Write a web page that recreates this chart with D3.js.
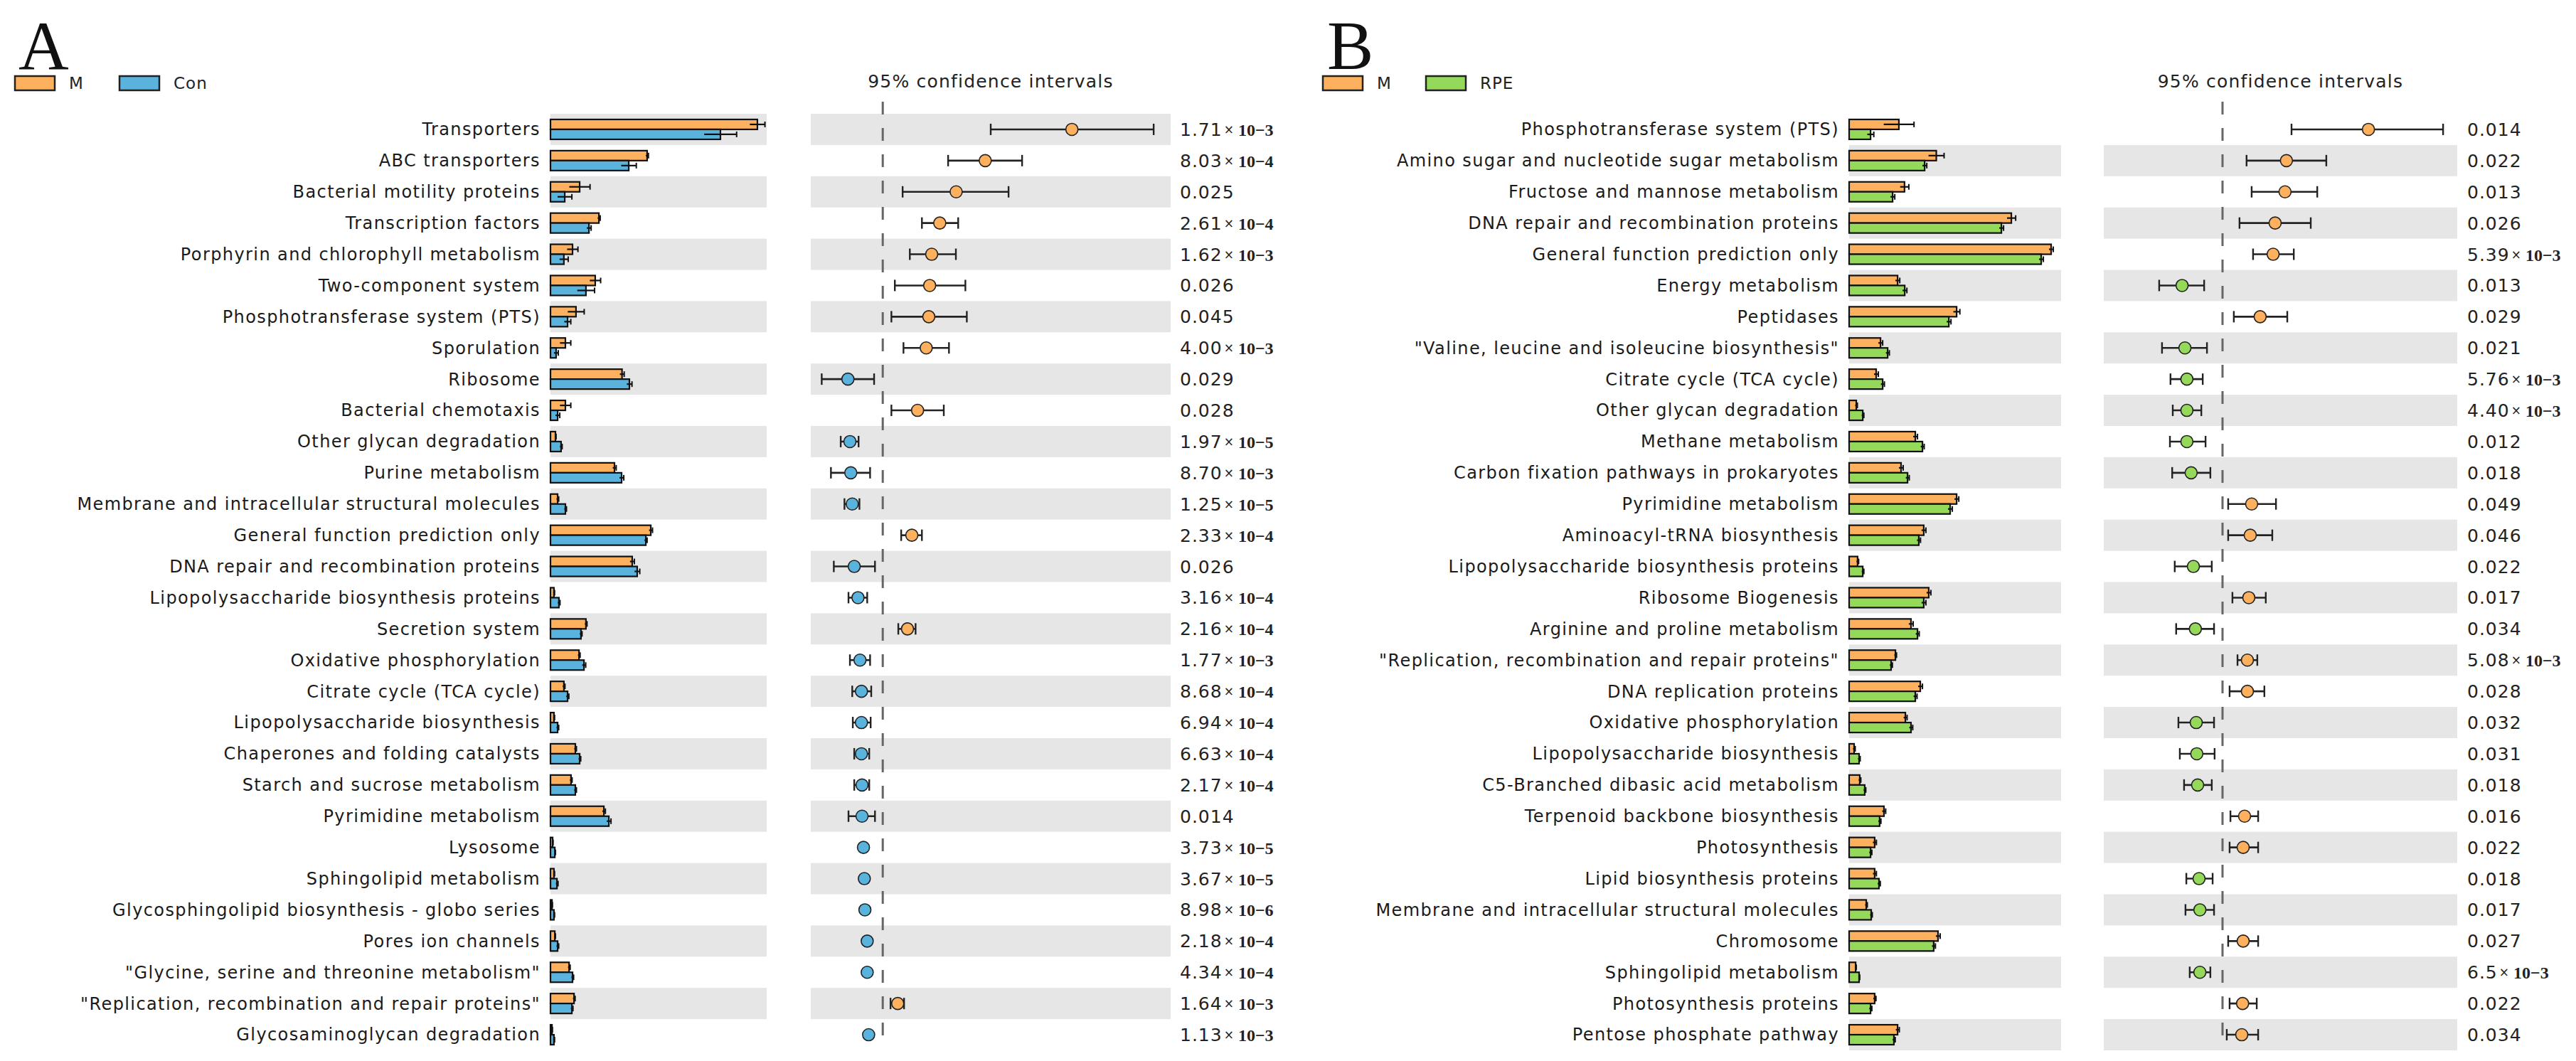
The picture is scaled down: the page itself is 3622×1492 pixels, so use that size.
<!DOCTYPE html>
<html><head><meta charset="utf-8">
<script src="https://cdn.jsdelivr.net/npm/d3@7/dist/d3.min.js"></script>
<style>body{margin:0;background:#fff}svg{display:block}</style>
</head><body>
<svg id="chart" width="3622" height="1492"></svg>
<script>
// ---------- Panel A data ----------
const catsA = ["Transporters","ABC transporters","Bacterial motility proteins","Transcription factors","Porphyrin and chlorophyll metabolism","Two-component system","Phosphotransferase system (PTS)","Sporulation","Ribosome","Bacterial chemotaxis","Other glycan degradation","Purine metabolism","Membrane and intracellular structural molecules","General function prediction only","DNA repair and recombination proteins","Lipopolysaccharide biosynthesis proteins","Secretion system","Oxidative phosphorylation","Citrate cycle (TCA cycle)","Lipopolysaccharide biosynthesis","Chaperones and folding catalysts","Starch and sucrose metabolism","Pyrimidine metabolism","Lysosome","Sphingolipid metabolism","Glycosphingolipid biosynthesis - globo series","Pores ion channels","\"Glycine, serine and threonine metabolism\"","\"Replication, recombination and repair proteins\"","Glycosaminoglycan degradation"];
const meanA_M   = [9.57,4.47,1.35,2.24,1.02,2.07,1.18,0.69,3.31,0.69,0.23,2.96,0.33,4.64,3.78,0.16,1.64,1.32,0.62,0.16,1.15,0.95,2.47,0.10,0.16,0.07,0.20,0.86,1.09,0.07];
const sdA_M     = [0.35,0.06,0.48,0.06,0.25,0.25,0.38,0.25,0.10,0.25,0.03,0.08,0.05,0.08,0.10,0.03,0.05,0.05,0.05,0.03,0.05,0.05,0.07,0.02,0.03,0.02,0.03,0.05,0.05,0.02];
const meanA_Con = [7.86,3.62,0.66,1.78,0.62,1.64,0.79,0.26,3.65,0.33,0.49,3.29,0.69,4.41,4.01,0.39,1.41,1.55,0.79,0.33,1.35,1.15,2.70,0.20,0.30,0.16,0.33,1.02,0.99,0.16];
const sdA_Con   = [0.75,0.35,0.33,0.10,0.20,0.40,0.15,0.10,0.12,0.10,0.05,0.10,0.05,0.06,0.12,0.05,0.05,0.08,0.06,0.05,0.05,0.05,0.10,0.03,0.05,0.03,0.05,0.05,0.05,0.03];
const diffA   = [0.657,0.356,0.255,0.198,0.170,0.163,0.160,0.151,-0.121,0.121,-0.114,-0.111,-0.106,0.101,-0.099,-0.086,0.086,-0.079,-0.074,-0.074,-0.074,-0.072,-0.072,-0.067,-0.064,-0.062,-0.054,-0.054,0.052,-0.049];
const ciLowA  = [0.375,0.227,0.069,0.136,0.094,0.042,0.030,0.072,-0.212,0.030,-0.146,-0.180,-0.133,0.064,-0.170,-0.119,0.054,-0.114,-0.106,-0.104,-0.099,-0.099,-0.119,-0.072,-0.069,-0.067,-0.062,-0.059,0.027,-0.054];
const ciHighA = [0.941,0.484,0.437,0.262,0.254,0.287,0.292,0.230,-0.030,0.212,-0.084,-0.044,-0.081,0.136,-0.027,-0.054,0.114,-0.044,-0.040,-0.042,-0.047,-0.047,-0.027,-0.061,-0.059,-0.057,-0.047,-0.049,0.074,-0.044];
const pA = ["1.71e-3","8.03e-4","0.025","2.61e-4","1.62e-3","0.026","0.045","4.00e-3","0.029","0.028","1.97e-5","8.70e-3","1.25e-5","2.33e-4","0.026","3.16e-4","2.16e-4","1.77e-3","8.68e-4","6.94e-4","6.63e-4","2.17e-4","0.014","3.73e-5","3.67e-5","8.98e-6","2.18e-4","4.34e-4","1.64e-3","1.13e-3"];
const groupsA = ["M","Con"];

// ---------- Panel B data ----------
const catsB = ["Phosphotransferase system (PTS)","Amino sugar and nucleotide sugar metabolism","Fructose and mannose metabolism","DNA repair and recombination proteins","General function prediction only","Energy metabolism","Peptidases","\"Valine, leucine and isoleucine biosynthesis\"","Citrate cycle (TCA cycle)","Other glycan degradation","Methane metabolism","Carbon fixation pathways in prokaryotes","Pyrimidine metabolism","Aminoacyl-tRNA biosynthesis","Lipopolysaccharide biosynthesis proteins","Ribosome Biogenesis","Arginine and proline metabolism","\"Replication, recombination and repair proteins\"","DNA replication proteins","Oxidative phosphorylation","Lipopolysaccharide biosynthesis","C5-Branched dibasic acid metabolism","Terpenoid backbone biosynthesis","Photosynthesis","Lipid biosynthesis proteins","Membrane and intracellular structural molecules","Chromosome","Sphingolipid metabolism","Photosynthesis proteins","Pentose phosphate pathway"];
const meanB_M   = [2.30,4.03,2.56,7.50,9.34,2.24,4.97,1.45,1.25,0.33,3.06,2.40,4.97,3.45,0.39,3.68,2.86,2.14,3.29,2.60,0.23,0.49,1.61,1.18,1.18,0.79,4.11,0.30,1.18,2.24];
const sdB_M     = [0.70,0.36,0.20,0.20,0.10,0.10,0.15,0.10,0.10,0.05,0.10,0.10,0.10,0.10,0.05,0.10,0.10,0.05,0.10,0.08,0.05,0.05,0.08,0.08,0.08,0.05,0.10,0.03,0.06,0.08];
const meanB_RPE = [0.99,3.49,2.01,7.04,8.88,2.57,4.61,1.78,1.55,0.63,3.39,2.70,4.67,3.22,0.63,3.45,3.16,1.94,3.06,2.86,0.46,0.72,1.41,0.99,1.38,1.02,3.91,0.46,0.99,2.07];
const sdB_RPE   = [0.15,0.10,0.10,0.10,0.10,0.10,0.10,0.08,0.08,0.05,0.08,0.08,0.10,0.08,0.05,0.10,0.08,0.06,0.08,0.08,0.05,0.05,0.06,0.06,0.06,0.05,0.08,0.03,0.06,0.06];
const diffB   = [0.516,0.226,0.221,0.186,0.179,-0.143,0.133,-0.133,-0.126,-0.126,-0.126,-0.111,0.103,0.098,-0.103,0.093,-0.096,0.088,0.088,-0.093,-0.091,-0.088,0.078,0.073,-0.083,-0.080,0.073,-0.080,0.071,0.068];
const ciLowB  = [0.244,0.085,0.103,0.060,0.108,-0.224,0.040,-0.214,-0.184,-0.176,-0.186,-0.178,0.020,0.020,-0.169,0.035,-0.164,0.053,0.025,-0.156,-0.151,-0.136,0.028,0.025,-0.128,-0.131,0.020,-0.116,0.025,0.015];
const ciHighB = [0.780,0.367,0.335,0.312,0.252,-0.065,0.229,-0.055,-0.070,-0.075,-0.060,-0.043,0.189,0.176,-0.038,0.153,-0.030,0.123,0.148,-0.030,-0.028,-0.038,0.126,0.126,-0.035,-0.030,0.126,-0.043,0.121,0.126];
const pB = ["0.014","0.022","0.013","0.026","5.39e-3","0.013","0.029","0.021","5.76e-3","4.40e-3","0.012","0.018","0.049","0.046","0.022","0.017","0.034","5.08e-3","0.028","0.032","0.031","0.018","0.016","0.022","0.018","0.017","0.027","6.5e-3","0.022","0.034"];
const groupsB = ["M","RPE"];

const COL_M = "#FDB05E", COL_CON = "#5AB3DD", COL_RPE = "#95D95B", STRIPE = "#E6E6E6";

const svg = d3.select("#chart");

function panel(o) {
  const g = svg.append("g");
  const n = o.cats.length;
  const y = d3.scaleBand().domain(d3.range(n)).range([160, 160 + n * 43.9]).padding(0);
  const xb = d3.scaleLinear().domain(o.barDomain).range(o.barRange);
  const xc = d3.scaleLinear().domain(o.ciDomain).range(o.ciRange);
  const bw = y.bandwidth();

  // panel letter
  g.append("text").attr("x", o.letterX).attr("y", 97).text(o.letter)
    .attr("font-family", "Liberation Serif, serif").attr("font-size", 98).attr("fill", "#111");
  // legend
  const lg = g.append("g");
  o.groups.forEach((name, k) => {
    const lx = o.legendX[k];
    lg.append("rect").attr("x", lx).attr("y", 107).attr("width", 56).attr("height", 20)
      .attr("fill", o.colors[k]).attr("stroke", "#222").attr("stroke-width", 2.5);
    lg.append("text").attr("x", lx + 76).attr("y", 125).text(name)
      .attr("font-family", "DejaVu Sans, sans-serif").attr("font-size", 23)
      .attr("letter-spacing", 1).attr("fill", "#222");
  });
  // title
  g.append("text").attr("x", (o.ciRange[0] + o.ciRange[1]) / 2).attr("y", 123)
    .attr("text-anchor", "middle").text("95% confidence intervals")
    .attr("font-family", "DejaVu Sans, sans-serif").attr("font-size", 25)
    .attr("letter-spacing", 1.2).attr("fill", "#222");

  // stripes
  const stripeRows = d3.range(n).filter(i => i % 2 === o.stripeParity);
  g.selectAll(".sb").data(stripeRows).join("rect")
    .attr("x", o.barRange[0]).attr("width", o.barRange[1] - o.barRange[0])
    .attr("y", i => y(i)).attr("height", bw).attr("fill", STRIPE);
  g.selectAll(".sc").data(stripeRows).join("rect")
    .attr("x", o.ciRange[0]).attr("width", o.ciRange[1] - o.ciRange[0])
    .attr("y", i => y(i)).attr("height", bw).attr("fill", STRIPE);

  // category labels
  g.selectAll(".lab").data(o.cats).join("text")
    .attr("x", o.barRange[0] - 14).attr("y", (d, i) => y(i) + bw / 2)
    .attr("dy", "0.35em").attr("text-anchor", "end").text(d => d)
    .attr("font-family", "DejaVu Sans, sans-serif").attr("font-size", 24)
    .attr("letter-spacing", 1.4).attr("fill", "#1a1a1a");

  // bars
  const bh = 14;
  [0, 1].forEach(k => {
    const means = o.means[k], sds = o.sds[k];
    const yOff = k === 0 ? -bh : 0;
    g.selectAll(".bar" + k).data(means).join("rect")
      .attr("x", xb(0)).attr("y", (d, i) => y(i) + bw / 2 + yOff)
      .attr("width", d => xb(d) - xb(0)).attr("height", bh)
      .attr("fill", o.colors[k]).attr("stroke", "#111").attr("stroke-width", 2.2);
    const eg = g.selectAll(".err" + k).data(means).join("g");
    eg.append("line")
      .attr("x1", (d, i) => xb(d - sds[i])).attr("x2", (d, i) => xb(d + sds[i]))
      .attr("y1", (d, i) => y(i) + bw / 2 + yOff + bh / 2).attr("y2", (d, i) => y(i) + bw / 2 + yOff + bh / 2)
      .attr("stroke", "#111").attr("stroke-width", 2.2);
    eg.append("line")
      .attr("x1", (d, i) => xb(d + sds[i])).attr("x2", (d, i) => xb(d + sds[i]))
      .attr("y1", (d, i) => y(i) + bw / 2 + yOff + bh / 2 - 4).attr("y2", (d, i) => y(i) + bw / 2 + yOff + bh / 2 + 4)
      .attr("stroke", "#111").attr("stroke-width", 2);
  });

  // dashed zero line
  g.append("line").attr("x1", xc(0)).attr("x2", xc(0)).attr("y1", 143).attr("y2", 1472)
    .attr("stroke", "#666").attr("stroke-width", 3).attr("stroke-dasharray", "18,19");

  // CI error bars and dots
  const cg = g.selectAll(".ci").data(o.diff).join("g");
  const cy = i => y(i) + bw / 2;
  cg.append("line").attr("x1", (d, i) => xc(o.lo[i])).attr("x2", (d, i) => xc(o.hi[i]))
    .attr("y1", (d, i) => cy(i)).attr("y2", (d, i) => cy(i)).attr("stroke", "#222").attr("stroke-width", 2.6);
  cg.append("line").attr("x1", (d, i) => xc(o.lo[i])).attr("x2", (d, i) => xc(o.lo[i]))
    .attr("y1", (d, i) => cy(i) - 8).attr("y2", (d, i) => cy(i) + 8).attr("stroke", "#222").attr("stroke-width", 2.4);
  cg.append("line").attr("x1", (d, i) => xc(o.hi[i])).attr("x2", (d, i) => xc(o.hi[i]))
    .attr("y1", (d, i) => cy(i) - 8).attr("y2", (d, i) => cy(i) + 8).attr("stroke", "#222").attr("stroke-width", 2.4);
  cg.append("circle").attr("cx", d => xc(d)).attr("cy", (d, i) => cy(i)).attr("r", 8.5)
    .attr("fill", d => d > 0 ? o.colors[0] : o.colors[1]).attr("stroke", "#222").attr("stroke-width", 1.6);

  // p-values
  const pt = g.selectAll(".pv").data(o.p).join("text")
    .attr("x", o.pX).attr("y", (d, i) => cy(i)).attr("dy", "0.36em")
    .attr("font-family", "DejaVu Sans, sans-serif").attr("font-size", 25).attr("fill", "#222");
  pt.each(function (d) {
    const t = d3.select(this);
    if (d.includes("e")) {
      const [m, e] = d.split("e");
      t.append("tspan").text(m).attr("letter-spacing", 1);
      t.append("tspan").text("×").attr("font-size", 17).attr("dx", 2).attr("dy", -3);
      t.append("tspan").text(" 10\u2212" + e.replace("-", "")).attr("dy", 3)
        .attr("font-family", "Liberation Serif, serif").attr("font-weight", "bold").attr("font-size", 24);
    } else {
      t.text(d).attr("letter-spacing", 1);
    }
  });
}

panel({
  letter: "A", letterX: 26, legendX: [21, 168], groups: groupsA, colors: [COL_M, COL_CON],
  cats: catsA, means: [meanA_M, meanA_Con], sds: [sdA_M, sdA_Con],
  diff: diffA, lo: ciLowA, hi: ciHighA, p: pA,
  barDomain: [0, 10], barRange: [774, 1078],
  ciDomain: [-0.25, 1.0], ciRange: [1140, 1646], pX: 1659, stripeParity: 0
});
panel({
  letter: "B", letterX: 1866, legendX: [1860, 2005], groups: groupsB, colors: [COL_M, COL_RPE],
  cats: catsB, means: [meanB_M, meanB_RPE], sds: [sdB_M, sdB_RPE],
  diff: diffB, lo: ciLowB, hi: ciHighB, p: pB,
  barDomain: [0, 9.8], barRange: [2600, 2898],
  ciDomain: [-0.42, 0.83], ciRange: [2958, 3455], pX: 3469, stripeParity: 1
});
</script>
</body></html>
